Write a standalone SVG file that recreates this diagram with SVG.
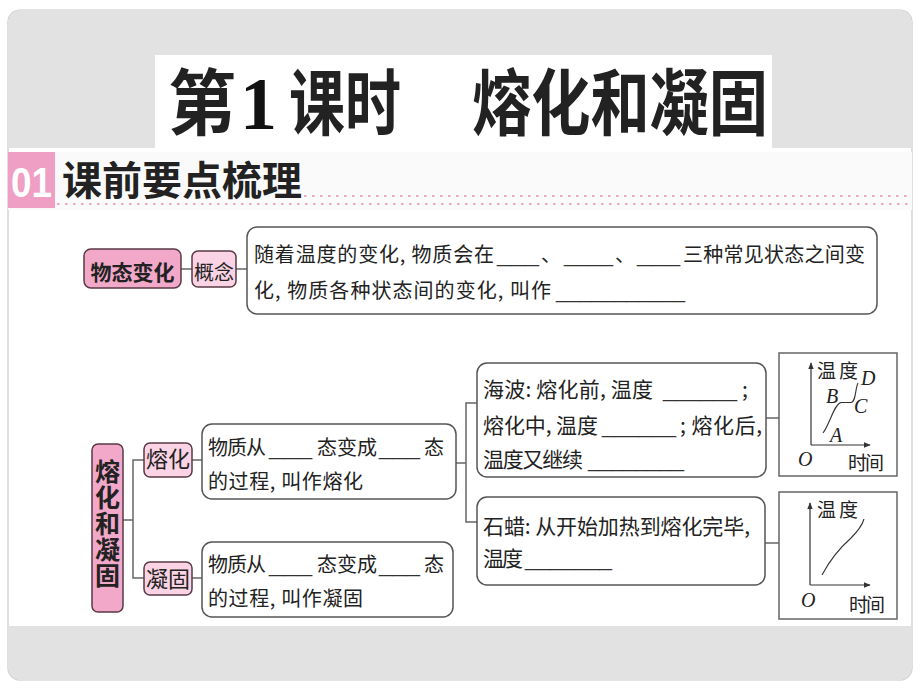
<svg xmlns="http://www.w3.org/2000/svg" width="920" height="690" viewBox="0 0 920 690">
<defs>
<style>
.cjk{font-family:"Noto Sans CJK SC","Noto Sans",sans-serif;fill:#222}
.b{font-weight:bold}
.body{font-size:20px}
.body21{font-size:21px}
.blank{font-family:"Liberation Sans",sans-serif;font-size:20px;fill:#333}
.box{fill:#fff;stroke:#555;stroke-width:1.5}
.pink{fill:#f2a8c9;stroke:#5a3a44;stroke-width:1.5}
.lpink{fill:#fad3e4;stroke:#5a3a44;stroke-width:1.5}
.gbox{fill:#fff;stroke:#666;stroke-width:1.5}
.con line,.con polyline{stroke:#666;stroke-width:1.5;fill:none}
.axis{stroke:#333;stroke-width:1.2;fill:none}
.curve{stroke:#333;stroke-width:1.1;fill:none}
.lat{font-family:"Liberation Serif",serif;font-style:italic;font-size:20px;fill:#222}
.gl{font-family:"Noto Sans CJK SC",sans-serif;font-size:19px;fill:#222}
.dots{stroke:#f0a8c8;stroke-width:2;stroke-dasharray:2.5 5.5}
.vert{writing-mode:vertical-rl;text-orientation:upright}
</style>
<marker id="arr" viewBox="0 0 10 10" refX="9" refY="5" markerWidth="7" markerHeight="7" markerUnits="userSpaceOnUse" orient="auto">
<path d="M0,1 L10,5 L0,9 Z" fill="#333"/>
</marker>
</defs>

<!-- page frame -->
<rect x="8" y="10" width="904" height="670" rx="12" fill="#fff" stroke="#c8c8c8" stroke-width="1.2"/>
<path d="M8,148 V22 a12,12 0 0 1 12,-12 H900 a12,12 0 0 1 12,12 V148 Z" fill="#e2e2e2"/>
<path d="M8,626 H912 V668 a12,12 0 0 1 -12,12 H20 a12,12 0 0 1 -12,-12 Z" fill="#e2e2e2"/>
<rect x="155" y="55" width="617" height="93" fill="#fff"/>

<!-- title -->
<g id="title">
<text x="168" y="129" class="cjk b" font-size="72" textLength="68" lengthAdjust="spacingAndGlyphs">第</text>
<text x="240" y="129" font-family="Liberation Serif,serif" font-weight="bold" font-size="74" fill="#111">1</text>
<text x="289" y="129" class="cjk b" font-size="72" textLength="112" lengthAdjust="spacingAndGlyphs">课时</text>
<text x="472" y="129" class="cjk b" font-size="72" textLength="296" lengthAdjust="spacingAndGlyphs">熔化和凝固</text>
</g>

<!-- section header -->
<g id="header">
<rect x="8" y="152" width="904" height="58" fill="#fafafa"/>
<rect x="8" y="152" width="47" height="56" fill="#ef9fc4"/>
<text x="11" y="197" font-family="Liberation Sans,sans-serif" font-weight="bold" font-size="42" fill="#fff" textLength="41" lengthAdjust="spacingAndGlyphs">01</text>
<text x="62" y="195" class="cjk b" font-size="40" textLength="240" lengthAdjust="spacingAndGlyphs">课前要点梳理</text>
<line class="dots" x1="304" y1="196" x2="912" y2="196"/>
<line class="dots" x1="57" y1="204" x2="912" y2="204"/>
</g>

<!-- connectors -->
<g id="connectors" class="con">
<line x1="181" y1="269" x2="192" y2="269"/>
<line x1="236" y1="269" x2="247" y2="269"/>
<line x1="123" y1="520" x2="133" y2="520"/>
<polyline points="144,460 133,460 133,578 144,578"/>
<line x1="192" y1="460" x2="202" y2="460"/>
<line x1="192" y1="578" x2="202" y2="578"/>
<line x1="456" y1="463" x2="466" y2="463"/>
<polyline points="477,403 466,403 466,522 477,522"/>
<line x1="766" y1="418" x2="779" y2="418"/>
<line x1="765" y1="543" x2="779" y2="543"/>
</g>

<!-- top concept -->
<g id="node-wutaibianhua">
<rect class="pink" x="84" y="249" width="97" height="39" rx="7"/>
<text x="132.5" y="280" class="cjk b" font-size="21" text-anchor="middle">物态变化</text>
</g>
<g id="node-gainian">
<rect class="lpink" x="192" y="251" width="44" height="36" rx="6"/>
<text x="214" y="280" class="cjk" font-size="20" text-anchor="middle">概念</text>
</g>
<g id="node-concept-text">
<rect class="box" x="247" y="227" width="630" height="87" rx="10"/>
<text x="254" y="262" class="cjk body" textLength="240">随着温度的变化, 物质会在</text>
<text x="497" y="262" class="blank" textLength="42" lengthAdjust="spacingAndGlyphs">___</text>
<text x="541" y="262" class="cjk body">、</text>
<text x="564" y="262" class="blank" textLength="49" lengthAdjust="spacingAndGlyphs">____</text>
<text x="615" y="262" class="cjk body">、</text>
<text x="637" y="262" class="blank" textLength="43" lengthAdjust="spacingAndGlyphs">___</text>
<text x="683" y="262" class="cjk body" textLength="182">三种常见状态之间变</text>
<text x="254" y="298" class="cjk body" textLength="297">化, 物质各种状态间的变化, 叫作</text>
<text x="556" y="298" class="blank" textLength="129" lengthAdjust="spacingAndGlyphs">___________</text>
</g>

<!-- bottom: 熔化和凝固 -->
<g id="node-main">
<rect class="pink" x="92" y="444" width="31" height="168" rx="6"/>
<text x="107.5" y="459" class="cjk b vert" font-size="25" letter-spacing="1">熔化和凝固</text>
</g>
<g id="node-ronghua">
<rect class="lpink" x="144" y="443" width="48" height="34" rx="6"/>
<text x="168" y="467" class="cjk" font-size="22" text-anchor="middle">熔化</text>
</g>
<g id="node-ninggu">
<rect class="lpink" x="144" y="562" width="48" height="33" rx="6"/>
<text x="168" y="587" class="cjk" font-size="22" text-anchor="middle">凝固</text>
</g>
<g id="node-ronghua-def">
<rect class="box" x="202" y="424" width="254" height="75" rx="10"/>
<text x="208" y="455" class="cjk body" textLength="58">物质从</text>
<text x="269" y="455" class="blank" textLength="43" lengthAdjust="spacingAndGlyphs">___</text>
<text x="317" y="455" class="cjk body" textLength="60">态变成</text>
<text x="379" y="455" class="blank" textLength="41" lengthAdjust="spacingAndGlyphs">___</text>
<text x="424" y="455" class="cjk body">态</text>
<text x="208" y="489" class="cjk body" textLength="155">的过程, 叫作熔化</text>
</g>
<g id="node-ninggu-def">
<rect class="box" x="202" y="542" width="251" height="75" rx="10"/>
<text x="208" y="572" class="cjk body" textLength="58">物质从</text>
<text x="269" y="572" class="blank" textLength="43" lengthAdjust="spacingAndGlyphs">___</text>
<text x="317" y="572" class="cjk body" textLength="60">态变成</text>
<text x="379" y="572" class="blank" textLength="41" lengthAdjust="spacingAndGlyphs">___</text>
<text x="424" y="572" class="cjk body">态</text>
<text x="208" y="606" class="cjk body" textLength="155">的过程, 叫作凝固</text>
</g>
<g id="node-haibo">
<rect class="box" x="477" y="363" width="289" height="114" rx="10"/>
<text x="483" y="397" class="cjk body21" textLength="170">海波: 熔化前, 温度</text>
<text x="663" y="397" class="blank" textLength="74" lengthAdjust="spacingAndGlyphs">______</text>
<text x="742" y="397" class="cjk body21">;</text>
<text x="483" y="433" class="cjk body21" textLength="115">熔化中, 温度</text>
<text x="602" y="433" class="blank" textLength="74" lengthAdjust="spacingAndGlyphs">______</text>
<text x="680" y="433" class="cjk body21" textLength="82">; 熔化后,</text>
<text x="483" y="467" class="cjk body21" textLength="100">温度又继续</text>
<text x="588" y="467" class="blank" textLength="96" lengthAdjust="spacingAndGlyphs">________</text>
</g>
<g id="node-shila">
<rect class="box" x="477" y="497" width="288" height="88" rx="10"/>
<text x="483" y="534" class="cjk body21" textLength="267">石蜡: 从开始加热到熔化完毕,</text>
<text x="483" y="566" class="cjk body21" textLength="40">温度</text>
<text x="525" y="566" class="blank" textLength="87" lengthAdjust="spacingAndGlyphs">_______</text>
</g>

<!-- graph 1 -->
<g id="node-graph-haibo">
<rect class="gbox" x="779" y="353" width="118" height="123"/>
<line class="axis" x1="811" y1="445" x2="811" y2="363" marker-end="url(#arr)"/>
<line class="axis" x1="811" y1="445" x2="870" y2="445" marker-end="url(#arr)"/>
<path class="curve" d="M823,433 C830,424 834,404 841,402.5 L851,402.5 C856,402 855,389 858,383"/>
<text x="817" y="378" class="gl" textLength="41">温度</text>
<text x="861" y="385" class="lat">D</text>
<text x="826" y="403" class="lat">B</text>
<text x="854" y="413" class="lat">C</text>
<text x="830" y="442" class="lat">A</text>
<text x="798" y="466" class="lat">O</text>
<text x="848" y="470" class="gl" textLength="36">时间</text>
</g>
<!-- graph 2 -->
<g id="node-graph-shila">
<rect class="gbox" x="779" y="492" width="118" height="127"/>
<line class="axis" x1="810" y1="585" x2="810" y2="503" marker-end="url(#arr)"/>
<line class="axis" x1="810" y1="585" x2="870" y2="585" marker-end="url(#arr)"/>
<path class="curve" d="M822,575 C832,556 842,546 851,538 C858,531 862,526 864,519"/>
<text x="817" y="517" class="gl" textLength="41">温度</text>
<text x="801" y="607" class="lat">O</text>
<text x="849" y="612" class="gl" textLength="36">时间</text>
</g>
</svg>
